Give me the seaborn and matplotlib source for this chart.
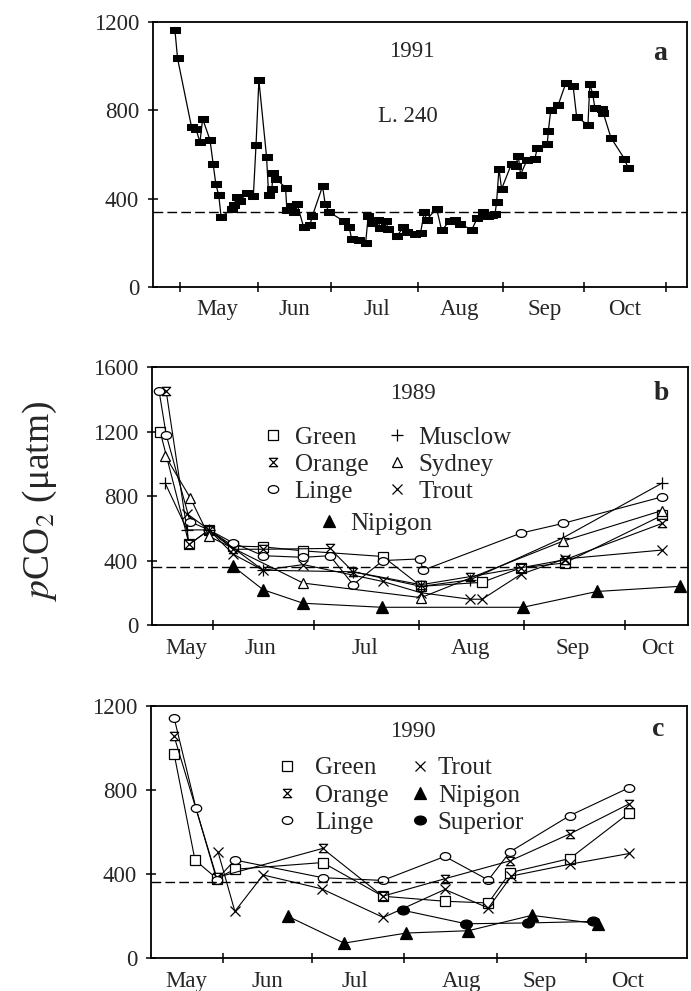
import matplotlib
matplotlib.use("Agg")
import matplotlib.pyplot as plt
import seaborn as sns
import numpy as np
from matplotlib.path import Path
from matplotlib.lines import Line2D
from matplotlib.legend import Legend

# x values are day of year
MONTHS = ["May", "Jun", "Jul", "Aug", "Sep", "Oct"]

# panel a: L. 240, 1991
a_day = [119.1, 120.1, 125.4, 127.1, 128.6, 129.6, 132.4, 133.6, 134.6, 135.7,
         136.6, 140.6, 141.4, 142.5, 143.7, 146.3, 148.8, 149.8, 150.9, 153.8,
         154.6, 155.8, 156.3, 157.4, 161.0, 161.5, 163.0, 164.2, 165.3, 167.8,
         170.2, 171.1, 175.0, 176.0, 177.5, 183.1, 185.1, 186.0, 188.9, 191.3,
         192.3, 193.6, 196.1, 196.7, 199.0, 199.9, 203.1, 205.6, 207.1, 210.0,
         212.1, 213.5, 214.4, 218.2, 220.1, 223.2, 225.1, 227.0, 231.5, 233.6,
         235.6, 237.7, 239.0, 240.3, 240.9, 241.8, 242.8, 246.6, 248.2, 249.1,
         250.0, 252.5, 255.4, 256.3, 260.1, 260.5, 261.4, 264.2, 267.2, 269.9,
         271.2, 275.5, 276.2, 277.3, 278.1, 280.7, 281.3, 284.2, 289.3, 290.7]
a_pco2 = [1165, 1035, 724, 714, 656, 762, 665, 555, 465, 415,
          317, 353, 371, 406, 388, 426, 410, 641, 936, 590,
          415, 444, 514, 490, 450, 347, 365, 340, 378, 273,
          279, 320, 456, 376, 340, 297, 271, 218, 214, 197,
          323, 290, 305, 267, 297, 262, 229, 271, 251, 240,
          244, 338, 305, 355, 256, 300, 305, 286, 259, 312,
          340, 320, 326, 330, 383, 535, 444, 559, 550, 595,
          509, 577, 580, 630, 649, 706, 800, 823, 926, 908,
          772, 733, 917, 875, 812, 804, 788, 676, 581, 538]
a_atm = 340
a_ticks = [121, 150.5, 178.2, 211.1, 243.3, 274.0, 305.0]
a_month_pos = [135.0, 164.5, 195.6, 227.0, 259.2, 289.5]

# panel b: 1989
b_lakes = {
    "Green": ([136.3, 144.9, 150.8, 157.9, 166.8, 178.7, 202.3, 213.6, 231.7, 243.2, 256.2, 285.0],
              [1200, 500, 590, 490, 485, 460, 425, 240, 265, 355, 385, 680]),
    "Orange": ([138.1, 144.9, 150.8, 157.9, 166.8, 186.6, 193.5, 213.6, 228.1, 243.2, 256.2, 285.0],
               [1450, 500, 590, 470, 470, 475, 330, 250, 300, 355, 405, 630]),
    "Linge": ([136.0, 138.1, 145.2, 150.8, 157.9, 166.8, 178.7, 186.6, 193.5, 202.3, 213.3, 214.2, 243.2, 255.6, 285.0],
              [1450, 1180, 640, 590, 510, 430, 420, 430, 250, 400, 410, 340, 570, 630, 795]),
    "Musclow": ([137.8, 144.3, 150.8, 166.8, 193.5, 213.6, 228.1, 255.6, 285.0],
                [880, 590, 590, 340, 330, 240, 280, 540, 880]),
    "Sydney": ([137.8, 145.2, 150.8, 178.7, 213.6, 255.6, 285.0],
               [1050, 790, 550, 260, 170, 520, 710]),
    "Trout": ([144.3, 150.8, 157.9, 166.8, 178.7, 202.3, 213.6, 228.1, 231.7, 243.2, 256.2, 285.0],
              [690, 590, 440, 340, 375, 270, 200, 160, 160, 315, 410, 465]),
    "Nipigon": ([157.9, 166.8, 178.7, 202.0, 243.8, 265.7, 290.3],
                [365, 219, 135, 110, 110, 208, 240]),
}
b_atm = 360
b_ticks = [152, 182, 213, 244, 274]
b_month_pos = [144.0, 165.9, 197.0, 228.1, 258.6, 283.8]

# panel c: 1990
c_lakes = {
    "Green": ([135.6, 142.6, 149.9, 156.0, 185.5, 205.7, 226.6, 241.2, 248.5, 268.6, 288.6],
              [970, 468, 380, 424, 456, 296, 272, 264, 408, 475, 692]),
    "Orange": ([135.6, 149.9, 185.5, 205.7, 226.6, 248.5, 268.6, 288.6],
               [1055, 385, 523, 296, 379, 464, 592, 735]),
    "Linge": ([135.6, 142.9, 149.9, 156.0, 185.5, 205.7, 226.6, 241.2, 248.5, 268.6, 288.6],
              [1142, 716, 375, 468, 384, 371, 485, 373, 507, 679, 812]),
    "Trout": ([150.4, 156.0, 165.5, 185.2, 205.9, 226.6, 241.2, 249.0, 268.6, 288.6],
              [504, 224, 397, 331, 195, 328, 240, 392, 448, 499]),
    "Nipigon": ([173.9, 192.7, 213.7, 234.5, 255.8, 278.2],
                [200, 73, 121, 132, 205, 165]),
    "Superior": ([212.6, 233.7, 254.6, 276.5],
                 [229, 165, 169, 176]),
}
c_atm = 365
c_ticks = [152, 182, 213, 244, 274]
c_month_pos = [139.6, 166.8, 196.4, 232.3, 258.6, 288.1]

# marker shapes
rect = Path([(-1, -0.5), (1, -0.5), (1, 0.5), (-1, 0.5), (-1, -0.5)],
            [Path.MOVETO, Path.LINETO, Path.LINETO, Path.LINETO, Path.CLOSEPOLY])
hourglass = Path([(-1, 1), (1, 1), (-1, -1), (1, -1), (-1, 1)],
                 [Path.MOVETO, Path.LINETO, Path.LINETO, Path.LINETO, Path.CLOSEPOLY])
circ = Path.unit_circle()
ellipse = Path(circ.vertices * np.array([1.0, 0.75]), circ.codes)

STYLE = {
    "Green": dict(marker="s", ms=6.5, mfc="white"),
    "Orange": dict(marker=hourglass, ms=6.0, mfc="white"),
    "Linge": dict(marker=ellipse, ms=7.5, mfc="white"),
    "Musclow": dict(marker="+", ms=8, mfc="white"),
    "Sydney": dict(marker="^", ms=7, mfc="white"),
    "Trout": dict(marker="x", ms=6.5, mfc="white"),
    "Nipigon": dict(marker="^", ms=8, mfc="black"),
    "Superior": dict(marker=ellipse, ms=8.5, mfc="black"),
}

sns.set_style("ticks")
plt.rcParams["font.family"] = ["Liberation Serif", "DejaVu Serif"]
plt.rcParams["mathtext.fontset"] = "stix"

fig = plt.figure(figsize=(6.91, 9.91), dpi=100)
ax_a = fig.add_axes([0.2214, 0.7104, 0.7728, 0.2674])
ax_b = fig.add_axes([0.2200, 0.3693, 0.7757, 0.2603])
ax_c = fig.add_axes([0.2185, 0.0328, 0.7757, 0.2548])


def style_axis(ax, xlim, ymax, yticks, ticks, month_pos):
    ax.set_xlim(*xlim)
    ax.set_ylim(0, ymax)
    ax.set_yticks(yticks)
    ax.set_xticks(ticks)
    ax.set_xticklabels([])
    ax.set_xticks(month_pos, minor=True)
    ax.set_xticklabels(MONTHS, minor=True)
    ax.tick_params(axis="both", which="major", direction="inout", length=7,
                   width=1.1, labelsize=16.5, color="black")
    ax.tick_params(axis="y", pad=6.5)
    ax.tick_params(axis="x", which="minor", length=0, pad=9, labelsize=16.5)
    for sp in ax.spines.values():
        sp.set_visible(True)
        sp.set_linewidth(1.3)
        sp.set_color("black")
    ax.set_xlabel("")
    ax.set_ylabel("")


def add_key(ax, names, x, y, pad):
    handles = [Line2D([], [], ls="none", color="black", mec="black", mew=0.9, **STYLE[n])
               for n in names]
    leg = Legend(ax, handles, names, loc="upper left", bbox_to_anchor=(x, y),
                 frameon=False, borderpad=0, borderaxespad=0, handlelength=1.0,
                 handletextpad=pad, labelspacing=0.19, fontsize=18)
    ax.add_artist(leg)


def draw_lakes(ax, lakes):
    for name, (day, val) in lakes.items():
        sns.lineplot(x=day, y=val, ax=ax, estimator=None, sort=False, color="black",
                     lw=0.8, mec="black", mew=0.9, legend=False, **STYLE[name])


# panel a
sns.lineplot(x=a_day, y=a_pco2, ax=ax_a, estimator=None, sort=False, color="black",
             lw=0.9, marker=rect, ms=7.5, mfc="black", mec="black", legend=False)
ax_a.axhline(a_atm, color="black", lw=1.0, ls=(0, (7, 3)))
style_axis(ax_a, (110.8, 313.0), 1200, [0, 400, 800, 1200], a_ticks, a_month_pos)
ax_a.text(0.485, 0.887, "1991", transform=ax_a.transAxes, ha="center", va="center", fontsize=16.5)
ax_a.text(0.478, 0.642, "L. 240", transform=ax_a.transAxes, ha="center", va="center", fontsize=16.5)
ax_a.text(0.949, 0.883, "a", transform=ax_a.transAxes, ha="center", va="center",
          fontsize=20, fontweight="bold")

# panel b
draw_lakes(ax_b, b_lakes)
ax_b.axhline(b_atm, color="black", lw=1.0, ls=(0, (7, 3)))
style_axis(ax_b, (133.9, 292.7), 1600, [0, 400, 800, 1200, 1600], b_ticks, b_month_pos)
ax_b.text(0.487, 0.899, "1989", transform=ax_b.transAxes, ha="center", va="center", fontsize=16.5)
ax_b.text(0.951, 0.899, "b", transform=ax_b.transAxes, ha="center", va="center",
          fontsize=20, fontweight="bold")
add_key(ax_b, ["Green", "Orange", "Linge"], 0.203, 0.771, 0.35)
add_key(ax_b, ["Musclow", "Sydney", "Trout"], 0.434, 0.771, 0.35)
add_key(ax_b, ["Nipigon"], 0.306, 0.438, 0.35)

# panel c
draw_lakes(ax_c, c_lakes)
ax_c.axhline(c_atm, color="black", lw=1.0, ls=(0, (7, 3)))
style_axis(ax_c, (127.8, 308.0), 1200, [0, 400, 800, 1200], c_ticks, c_month_pos)
ax_c.text(0.489, 0.898, "1990", transform=ax_c.transAxes, ha="center", va="center", fontsize=16.5)
ax_c.text(0.947, 0.905, "c", transform=ax_c.transAxes, ha="center", va="center",
          fontsize=20, fontweight="bold")
add_key(ax_c, ["Green", "Orange", "Linge"], 0.231, 0.798, 0.6)
add_key(ax_c, ["Trout", "Nipigon", "Superior"], 0.479, 0.798, 0.2)

fig.text(0.058, 0.495, r"$p$CO$_2$ (μatm)", rotation=90, ha="center", va="center", fontsize=27)

fig.savefig("out.png", dpi=100)
